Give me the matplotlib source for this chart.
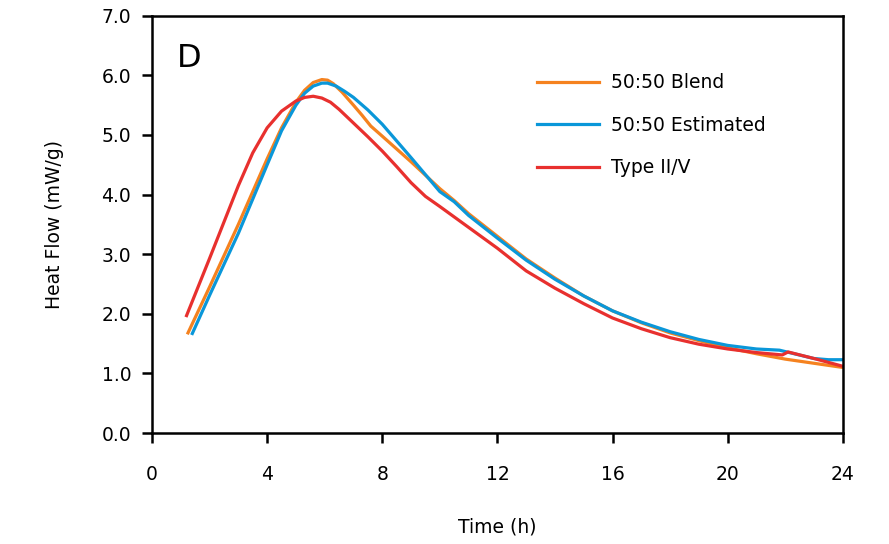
import matplotlib
matplotlib.use("Agg")
import matplotlib.pyplot as plt

plt.rcParams['font.family'] = ['DejaVu Sans']

# 50:50 Blend
t_blend = [1.25, 2.0, 3.0, 4.0, 4.5, 5.0, 5.3, 5.6, 5.9, 6.1, 6.3, 6.6, 7.0, 7.3, 7.6, 8.0, 9.0, 10.0, 10.5, 11, 12, 13, 14, 15, 16, 17, 18, 19, 20, 21, 22, 23, 24]
y_blend = [1.68, 2.45, 3.5, 4.6, 5.12, 5.55, 5.75, 5.88, 5.93, 5.92, 5.86, 5.72, 5.5, 5.33, 5.15, 4.98, 4.55, 4.1, 3.9, 3.68, 3.3, 2.92, 2.6, 2.3, 2.05, 1.85, 1.68, 1.55, 1.43, 1.33, 1.24, 1.17, 1.1]

# 50:50 Estimated
t_est = [1.4, 2.0, 3.0, 4.0, 4.5, 5.0, 5.3, 5.6, 5.9, 6.1, 6.4, 6.7, 7.0, 7.5, 8.0, 9.0, 10.0, 10.5, 11, 12, 13, 14, 15, 16, 17, 18, 19, 20, 21, 21.8, 22.4, 23, 23.5, 24]
y_est = [1.67, 2.31, 3.35, 4.5, 5.07, 5.5, 5.7, 5.82, 5.87, 5.87, 5.82, 5.73, 5.63, 5.42, 5.18, 4.62, 4.05, 3.88, 3.65, 3.27, 2.9, 2.58, 2.3, 2.05, 1.86, 1.7, 1.57, 1.47, 1.41, 1.39, 1.32, 1.25, 1.23, 1.23]

# Type II/V
t_type = [1.2, 2.0, 3.0, 3.5, 4.0, 4.5, 5.0, 5.3, 5.6, 5.9, 6.2, 6.5, 7.0, 7.5, 8.0, 8.5, 9.0, 9.5, 10, 11, 12, 13, 14, 15, 16, 17, 18, 19, 20, 21, 21.9, 22.1, 23, 24]
y_type = [1.97, 2.93, 4.15, 4.7, 5.12, 5.4, 5.57, 5.63, 5.65, 5.62, 5.55, 5.43, 5.2, 4.97, 4.73, 4.47, 4.2, 3.97, 3.8, 3.45, 3.1, 2.72, 2.43, 2.17, 1.93, 1.75, 1.6, 1.49, 1.41, 1.35, 1.31, 1.36, 1.25, 1.12]

x_ticks = [0, 4, 8, 12, 16, 20, 24]
y_ticks = [0.0, 1.0, 2.0, 3.0, 4.0, 5.0, 6.0, 7.0]

fig = plt.figure(figsize=(8.89, 5.44), dpi=100)
ax = fig.add_axes([0.171, 0.204, 0.777, 0.767])

lw = 2.3
ax.plot(t_blend, y_blend, color='#F5821F', lw=lw, label='50:50 Blend', solid_joinstyle='round')
ax.plot(t_est, y_est, color='#0A97D9', lw=lw, label='50:50 Estimated', solid_joinstyle='round')
ax.plot(t_type, y_type, color='#E8302E', lw=lw, label='Type II/V', solid_joinstyle='round')

ax.set_xlim(0, 24)
ax.set_ylim(0, 7)
ax.set_xticks(x_ticks)
ax.set_xticklabels([str(v) for v in x_ticks])
ax.set_yticks(y_ticks)
ax.set_yticklabels([f"{v:.1f}" for v in y_ticks])

for s in ax.spines.values():
    s.set_linewidth(1.8)
ax.tick_params(direction='out', length=7, width=1.8, labelsize=13.5, pad=8)
ax.tick_params(axis='x', pad=16)

ax.set_xlabel('Time (h)', fontsize=13.5, labelpad=24)
ax.set_ylabel('Heat Flow (mW/g)', fontsize=13.5, labelpad=27)

ax.text(0.036, 0.935, 'D', transform=ax.transAxes, fontsize=23, va='top', ha='left')

ax.legend(frameon=False, loc='upper left', bbox_to_anchor=(0.557, 0.862),
          fontsize=13.5, handlelength=3.3, handletextpad=0.65, labelspacing=1.25,
          borderpad=0, borderaxespad=0)

fig.savefig('out.png', dpi=100)
